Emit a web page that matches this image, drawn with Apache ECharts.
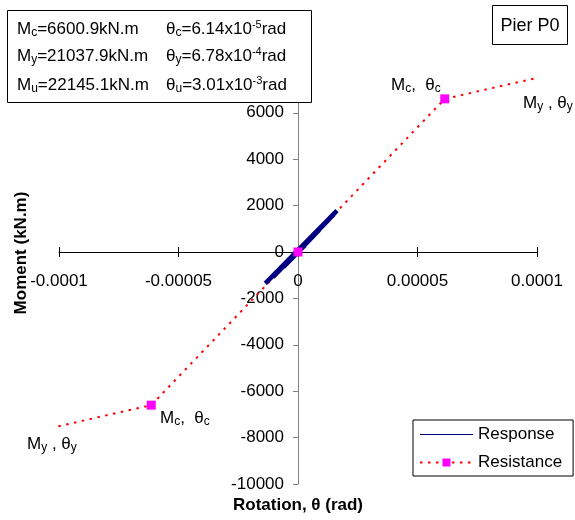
<!DOCTYPE html>
<html>
<head>
<meta charset="utf-8">
<script src="https://cdn.jsdelivr.net/npm/echarts@6/dist/echarts.min.js"></script>
<style>
  html, body { margin: 0; padding: 0; background: #fff; }
  #chart { width: 575px; height: 520px; }
</style>
</head>
<body>
<div id="chart"></div>
<script>
// data
var xTicks = ["-0.0001", "-0.00005", "0", "0.00005", "0.0001"];
// resistance envelope: My-, Mc-, origin, Mc+, My+
var resistX = [-6.78e-4, -6.14e-5, 0, 6.14e-5, 6.78e-4];
var resistY = [-21037.9, -6600.9, 0, 6600.9, 21037.9];
// marked resistance points: Mc-, origin, Mc+
var markX = [-6.14e-5, 0, 6.14e-5];
var markY = [-6600.9, 0, 6600.9];
// response loops (turning points)
var respX = [0, 1.63e-5, -1.37e-5, 1.5e-5, -1.25e-5, 1.3e-5, -1.05e-5, 0.9e-5, -0.6e-5, 0.3e-5, 0];
var respY = [0, 1780, -1350, 1620, -1230, 1400, -1080, 960, -640, 300, 0];

var FONT = "Liberation Sans, Arial, sans-serif";
var GRID = { left: 59, right: 38, top: 20, bottom: 36 };
var W = 575, H = 520;
// axes cross at the origin: shift them into the middle of the plot
var xShift = -(H - GRID.top - GRID.bottom) / 2;
var yShift = -(W - GRID.left - GRID.right) / 2;

function pairs(xs, ys) {
  return xs.map(function (x, i) { return [x, ys[i]]; });
}

var rich = {
  n: { fontSize: 17, fontFamily: FONT, color: "#000", lineHeight: 20, verticalAlign: "middle" },
  sub: { fontSize: 12, fontFamily: FONT, color: "#000", lineHeight: 20, verticalAlign: "bottom" },
  sup: { fontSize: 11, fontFamily: FONT, color: "#000", lineHeight: 20, verticalAlign: "top" }
};

function txt(x, y, text, extra) {
  var o = {
    type: "text", x: x, y: y, z: 110,
    style: { text: text, rich: rich, font: "17px " + FONT, fill: "#000", verticalAlign: "middle" }
  };
  for (var k in extra) o.style[k] = extra[k];
  return o;
}

var myChart = echarts.init(document.getElementById("chart"));
var option = {
  backgroundColor: "#fff",
  animation: false,
  grid: { left: GRID.left, right: GRID.right, top: GRID.top, bottom: GRID.bottom, containLabel: false, outerBoundsMode: "none" },
  xAxis: [
    {
      type: "value",
      min: -0.0001,
      max: 0.0001,
      interval: 0.00005,
      position: "bottom",
      offset: xShift,
      axisLine: { onZero: false, lineStyle: { color: "#000", width: 1 } },
      axisTick: { show: true, inside: false, length: 5, lineStyle: { color: "#000" } },
      axisLabel: {
        margin: 21,
        fontSize: 17,
        fontFamily: FONT,
        color: "#000",
        showMinLabel: true,
        showMaxLabel: true,
        hideOverlap: false,
        formatter: function (v, i) { return xTicks[i]; }
      },
      splitLine: { show: false }
    },
    {
      type: "value",
      min: -0.0001,
      max: 0.0001,
      interval: 0.00005,
      position: "bottom",
      offset: xShift,
      axisLine: { show: false, onZero: false },
      axisTick: { show: true, inside: true, length: 5, lineStyle: { color: "#000" } },
      axisLabel: { show: false },
      splitLine: { show: false }
    }
  ],
  yAxis: {
    type: "value",
    min: -10000,
    max: 10000,
    interval: 2000,
    position: "left",
    offset: yShift,
    axisLine: { onZero: false, lineStyle: { color: "#808080", width: 1 } },
    axisTick: { show: true, inside: false, length: 5, lineStyle: { color: "#808080" } },
    axisLabel: {
      margin: 14, fontSize: 17, fontFamily: FONT, color: "#000", hideOverlap: false,
      formatter: function (v) { return String(v); }
    },
    splitLine: { show: false }
  },
  legend: {
    orient: "vertical",
    left: 413,
    top: 420,
    padding: [6, 11, 5, 6],
    itemGap: 11,
    itemWidth: 53,
    itemHeight: 10,
    borderColor: "#000",
    borderWidth: 1,
    borderRadius: 0,
    backgroundColor: "#fff",
    textStyle: { fontSize: 17, fontFamily: FONT, color: "#000" },
    data: [
      { name: "Response", itemStyle: { opacity: 0 }, lineStyle: { width: 1.2 } },
      "Resistance"
    ]
  },
  series: [
    {
      name: "Resistance",
      type: "line",
      data: pairs(resistX, resistY),
      symbol: "rect",
      symbolSize: 9,
      showSymbol: false,
      clip: true,
      lineStyle: { color: "#ff0000", width: 2, type: [2.5, 5.5] },
      itemStyle: { color: "#ff00ff" },
      z: 2
    },
    {
      name: "Response",
      type: "line",
      data: pairs(respX, respY),
      symbol: "circle",
      symbolSize: 3,
      showSymbol: false,
      lineStyle: { color: "#000080", width: 4.5 },
      itemStyle: { color: "#000080" },
      z: 3
    },
    {
      name: "Resistance",
      type: "scatter",
      data: pairs(markX, markY),
      symbol: "rect",
      symbolSize: 9,
      itemStyle: { color: "#ff00ff", opacity: 1 },
      z: 4
    }
  ],
  graphic: [
    // parameter box
    { type: "rect", z: 100, shape: { x: 7.5, y: 10.5, width: 304, height: 92 }, style: { fill: "#fff", stroke: "#000", lineWidth: 1 } },
    txt(17, 29, "{n|M}{sub|c}{n|=6600.9kN.m}"),
    txt(166, 29, "{n|θ}{sub|c}{n|=6.14x10}{sup|-5}{n|rad}"),
    txt(17, 56, "{n|M}{sub|y}{n|=21037.9kN.m}"),
    txt(166, 56, "{n|θ}{sub|y}{n|=6.78x10}{sup|-4}{n|rad}"),
    txt(17, 85, "{n|M}{sub|u}{n|=22145.1kN.m}"),
    txt(166, 85, "{n|θ}{sub|u}{n|=3.01x10}{sup|-3}{n|rad}"),
    // pier label
    { type: "rect", z: 100, shape: { x: 492.5, y: 5.5, width: 75, height: 39 }, style: { fill: "#fff", stroke: "#000", lineWidth: 1 } },
    txt(530, 26, "Pier P0", { align: "center", font: "18px " + FONT }),
    // point annotations
    txt(391, 85, "{n|M}{sub|c}{n|,  θ}{sub|c}"),
    txt(523, 103, "{n|M}{sub|y}{n| , θ}{sub|y}"),
    txt(160, 418, "{n|M}{sub|c}{n|,  θ}{sub|c}"),
    txt(27, 444, "{n|M}{sub|y}{n| , θ}{sub|y}"),
    // axis names
    { type: "text", z: 110, x: 298, y: 505, style: { text: "Rotation, θ (rad)", font: "bold 17px " + FONT, fill: "#000", align: "center", verticalAlign: "middle" } },
    { type: "text", z: 110, x: 21, y: 253, rotation: Math.PI / 2, style: { text: "Moment (kN.m)", font: "bold 17px " + FONT, fill: "#000", align: "center", verticalAlign: "middle" } }
  ]
};
myChart.setOption(option);
</script>
</body>
</html>
